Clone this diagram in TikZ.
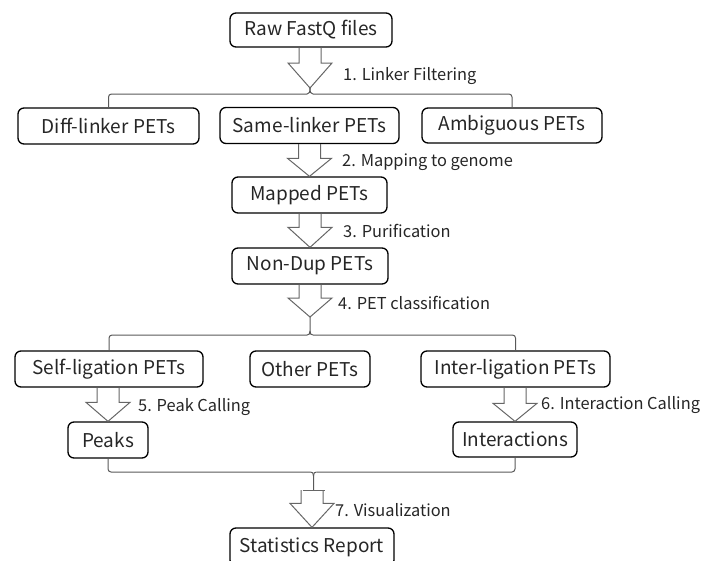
\documentclass[tikz,border=0pt]{standalone}
\usepackage{fontspec}
\setmainfont{Noto Sans CJK SC}
\usetikzlibrary{calc}

\tikzset{
  stagebox/.style={draw=black, line width=1.3pt, rounded corners=6pt,
    inner sep=0pt, font=\fontsize{19}{22}\selectfont, text=black!85},
  steplabel/.style={anchor=west, inner sep=0pt,
    font=\fontsize{16.4}{19}\selectfont, text=black!85},
  bigarrow/.style={draw=black!60, line width=1pt, line join=miter},
  branch/.style={draw=black!65, line width=1pt, rounded corners=3pt},
  forkline/.style={draw=black!65, line width=1pt}
}

% hollow block arrow: shaft starts at #1, tip at #2, head length #3
\newcommand\hollowarrow[3]{%
  \draw[bigarrow] let \p1=(#1), \p2=(#2) in
    (\x2-11pt,\y1) -- (\x2-11pt,\y2+#3pt) -- (\x2-22pt,\y2+#3pt) --
    (\x2,\y2) -- (\x2+22pt,\y2+#3pt) -- (\x2+11pt,\y2+#3pt) -- (\x2+11pt,\y1);}

\begin{document}
\begin{tikzpicture}[x=1pt,y=-1pt]
\useasboundingbox (0,0) rectangle (707,560);
\clip (0,0) rectangle (707,560);

% stages
\node[stagebox, minimum width=162pt, minimum height=34pt] (raw)    at (311,30)    {Raw FastQ files};
\node[stagebox, minimum width=181pt, minimum height=36pt] (diff)   at (108.5,126) {Diff-linker PETs};
\node[stagebox, minimum width=179pt, minimum height=36pt] (same)   at (309.5,125.5) {Same-linker PETs};
\node[stagebox, minimum width=180pt, minimum height=35pt] (amb)    at (512,125.5) {Ambiguous PETs};
\node[stagebox, minimum width=155pt, minimum height=36pt] (mapped) at (309.5,195) {Mapped PETs};
\node[stagebox, minimum width=156pt, minimum height=36pt] (nondup) at (310,266)   {Non-Dup PETs};
\node[stagebox, minimum width=188pt, minimum height=36pt] (self)   at (109,369)   {Self-ligation PETs};
\node[stagebox, minimum width=120pt, minimum height=36pt] (other)  at (310,369)   {Other PETs};
\node[stagebox, minimum width=189pt, minimum height=36pt] (inter)  at (515.5,369) {Inter-ligation PETs};
\node[stagebox, minimum width=80pt,  minimum height=36pt] (peaks)  at (108,440)   {Peaks};
\node[stagebox, minimum width=124pt, minimum height=35pt] (inters) at (515,439.5) {Interactions};
\node[stagebox, minimum width=164pt, minimum height=38pt] (stats)  at (312,547)   {Statistics Report};

% split points of the branching lines
\coordinate (fork1) at (310,88);
\coordinate (fork4) at (310,317);
\coordinate (join7) at (313.5,490);

% step 1: linker filtering, split into three classes
\hollowarrow{raw.south}{fork1}{25}
\draw[branch] (diff.north) |- (307,94);
\draw[branch] (amb.north) |- (313,94);
\draw[forkline] (307,94) .. controls (309.5,94) and (310,92) .. (fork1);
\draw[forkline] (313,94) .. controls (310.5,94) and (310,92) .. (fork1);
\node[steplabel] (l1) at (343,76) {1. Linker Filtering};

% steps 2 and 3
\hollowarrow{same.south}{mapped.north}{18}
\node[steplabel] (l2) at (342,162) {2. Mapping to genome};
\hollowarrow{mapped.south}{nondup.north}{20}
\node[steplabel] (l3) at (343,231) {3. Purification};

% step 4: PET classification
\hollowarrow{nondup.south}{fork4}{19}
\draw[branch] (self.north) |- (307,335);
\draw[branch] (inter.north) |- (313,335);
\draw[forkline] (fork4) -- (310,331)
  .. controls (310,334) and (309,335) .. (307,335);
\draw[forkline] (310,331)
  .. controls (310,334) and (311,335) .. (313,335);
\node[steplabel] (l4) at (338,303) {4. PET classification};

% steps 5 and 6
\hollowarrow{self.south}{peaks.north}{19}
\node[steplabel] (l5) at (138,407) {5. Peak Calling};
\hollowarrow{inter.south}{inters.north}{18}
\node[steplabel] (l6) at (541,405) {6. Interaction Calling};

% step 7: merge peaks and interactions into the report
\draw[branch] (peaks.south) |- (310.5,472);
\draw[branch] (inters.south) |- (316.5,472);
\draw[forkline] (310.5,472)
  .. controls (312.5,472) and (313.5,473) .. (313.5,476) -- (join7);
\draw[forkline] (316.5,472)
  .. controls (314.5,472) and (313.5,473) .. (313.5,476);
\hollowarrow{join7}{stats.north}{24}
\draw[bigarrow] ($(join7)+(-11,0)$) -- ($(join7)+(11,0)$);
\node[steplabel] (l7) at (335,510) {7. Visualization};
\end{tikzpicture}
\end{document}
